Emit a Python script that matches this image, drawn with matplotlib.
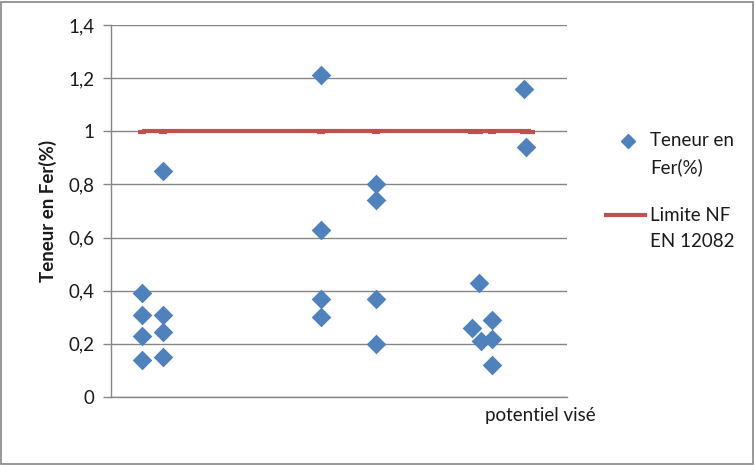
import matplotlib
matplotlib.use("Agg")
import matplotlib.pyplot as plt
from matplotlib.lines import Line2D

# Data (x positions in arbitrary axis units 0..10)
x_teneur = [0.68, 0.68, 0.68, 0.68, 1.14, 1.14, 1.14, 1.14,
            4.61, 4.61, 4.61, 4.61, 5.81, 5.81, 5.81, 5.81,
            7.92, 8.07, 8.11, 8.36, 8.36, 8.36, 9.06, 9.10]
y_teneur = [0.39, 0.31, 0.23, 0.14, 0.85, 0.31, 0.245, 0.15,
            1.21, 0.63, 0.37, 0.30, 0.80, 0.74, 0.37, 0.20,
            0.26, 0.43, 0.21, 0.29, 0.22, 0.12, 1.16, 0.94]
x_limite = [0.68, 1.14, 4.61, 5.81, 7.92, 8.07, 8.36, 9.06, 9.20]
y_limite = [1.0, 1.0, 1.0, 1.0, 1.0, 1.0, 1.0, 1.0, 1.0]
y_ticks = [0, 0.2, 0.4, 0.6, 0.8, 1.0, 1.2, 1.4]
y_tick_labels = ["0", "0,2", "0,4", "0,6", "0,8", "1", "1,2", "1,4"]

plt.rcParams['font.family'] = ['Lato', 'DejaVu Sans']
BLUE = "#4F81BD"
RED = "#C0504D"
GRID = "#868686"
TXT = "#1a1a1a"
FS = 13.5

fig = plt.figure(figsize=(7.55, 4.65), dpi=100)
fig.patch.set_facecolor("white")
ax = fig.add_axes([111/755, 1-397/465, (567-111)/755, (397-25)/465])

ax.plot(x_limite, y_limite, color=RED, lw=3, solid_capstyle="butt", zorder=2,
        clip_on=False)
ax.plot(x_limite, [v - 0.004 for v in y_limite], color=RED, lw=0, marker="_",
        ms=6, mew=3, zorder=2, clip_on=False)
ax.scatter(x_teneur, y_teneur, marker="D", s=100, color=BLUE, zorder=3,
           linewidths=0, clip_on=False)

ax.set_xlim(0, 10)
ax.set_ylim(0, 1.4)
ax.set_yticks(y_ticks)
ax.set_yticklabels(y_tick_labels, fontsize=FS, color=TXT)
ax.set_xticks([])
ax.yaxis.grid(True, color=GRID, lw=1)
ax.set_axisbelow(True)
ax.tick_params(axis="y", length=6, width=1, color=GRID, pad=6)
for s in ["top", "right"]:
    ax.spines[s].set_visible(False)
for s in ["left", "bottom"]:
    ax.spines[s].set_color(GRID)
    ax.spines[s].set_linewidth(1)

ax.set_ylabel("Teneur en Fer(%)", fontsize=FS, fontweight="bold", labelpad=8,
              color=TXT)
fig.text(540/755, 1-415/465, "potentiel visé", fontsize=FS, ha="center",
         va="center", color=TXT)

# Legend drawn manually at the right
fig.add_artist(Line2D([628/755], [1-141/465], marker="D", ms=7, color=BLUE,
                      lw=0, transform=fig.transFigure))
fig.text(650/755, 1-141/465, "Teneur en", fontsize=FS, va="center", color=TXT)
fig.text(650/755, 1-167/465, "Fer(%)", fontsize=FS, va="center", color=TXT)
fig.add_artist(Line2D([606/755, 645/755], [1-215/465, 1-215/465], color=RED,
                      lw=3, transform=fig.transFigure))
fig.text(650/755, 1-215/465, "Limite NF", fontsize=FS, va="center", color=TXT)
fig.text(650/755, 1-241/465, "EN 12082", fontsize=FS, va="center", color=TXT)

# Outer frame
fig.add_artist(plt.Rectangle((1/755, 1/465), 752/755, 462/465, fill=False,
                             edgecolor="#868686", lw=1.2, transform=fig.transFigure))

fig.savefig("out.png", dpi=100)
